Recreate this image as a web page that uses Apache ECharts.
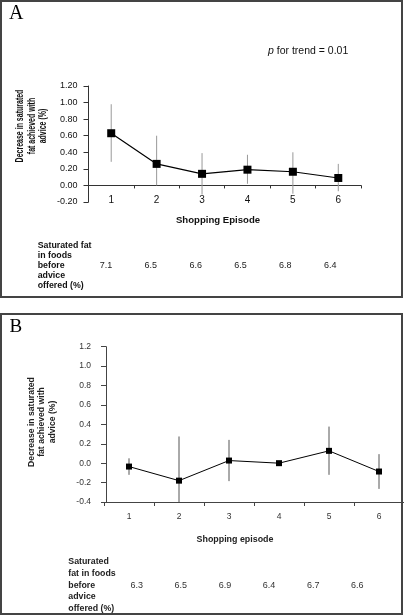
<!DOCTYPE html>
<html>
<head>
<meta charset="utf-8">
<script src="https://cdn.jsdelivr.net/npm/echarts@6/dist/echarts.min.js"></script>
<style>
html,body{margin:0;padding:0;background:#fff;}
#chart{width:404px;height:616px;}
</style>
</head>
<body>
<div id="chart"></div>
<script>
// ---- data ----
const categories = ['1', '2', '3', '4', '5', '6'];

// Panel A
const meanA = [0.63, 0.26, 0.14, 0.19, 0.165, 0.09];
const lowA  = [0.285, 0.0, -0.11, 0.02, -0.10, -0.07];
const highA = [0.98, 0.60, 0.39, 0.37, 0.40, 0.26];
const fatA  = ['7.1', '6.5', '6.6', '6.5', '6.8', '6.4'];

// Panel B
const meanB = [-0.035, -0.18, 0.027, 0.0, 0.127, -0.086];
const lowB  = [-0.12, -0.64, -0.185, 0.0, -0.12, -0.265];
const highB = [0.05, 0.275, 0.24, 0.0, 0.377, 0.093];
const fatB  = ['6.3', '6.5', '6.9', '6.4', '6.7', '6.6'];

const yRangeA = [-0.2, 1.2, 0.2];
const yRangeB = [-0.4, 1.2, 0.2];

const FONT = 'Liberation Sans, Arial, sans-serif';

function errData(low, high) {
  return categories.map((c, i) => [i, low[i], high[i]]);
}
function errRender(color) {
  return function (params, api) {
    const x = api.value(0);
    const lo = api.coord([x, api.value(1)]);
    const hi = api.coord([x, api.value(2)]);
    return {
      type: 'line',
      shape: { x1: lo[0], y1: lo[1], x2: hi[0], y2: hi[1] },
      style: { stroke: color, lineWidth: 1 }
    };
  };
}

const chart = echarts.init(document.getElementById('chart'), null, { renderer: 'canvas' });

const option = {
  animation: false,
  backgroundColor: '#fff',
  grid: [
    { left: 88.5, top: 86, width: 272.5, height: 116 },   // A main
    { left: 104, top: 346.7, width: 302.4, height: 155.3 }, // B main
    { left: 83.6, top: 255, width: 269, height: 1 },      // A table
    { left: 114.6, top: 575, width: 264.8, height: 1 }    // B table
  ],
  xAxis: [
    {
      gridIndex: 0, type: 'category', data: categories, boundaryGap: true,
      axisLine: { onZero: true, lineStyle: { color: '#333', width: 1 } },
      axisTick: { show: true, length: 3, lineStyle: { color: '#333' } },
      axisLabel: { fontSize: 10, color: '#111', margin: -7, fontFamily: FONT }
    },
    {
      gridIndex: 1, type: 'category', data: categories, boundaryGap: true,
      axisLine: { onZero: false, lineStyle: { color: '#444', width: 1 } },
      axisTick: { show: true, length: 4, lineStyle: { color: '#444' } },
      axisLabel: { fontSize: 8.5, color: '#333', margin: 10, fontFamily: FONT }
    },
    {
      gridIndex: 2, type: 'category', data: fatA, boundaryGap: true,
      axisLine: { show: false }, axisTick: { show: false },
      axisLabel: { fontSize: 9, color: '#222', margin: 5, fontFamily: FONT }
    },
    {
      gridIndex: 3, type: 'category', data: fatB, boundaryGap: true,
      axisLine: { show: false }, axisTick: { show: false },
      axisLabel: { fontSize: 9, color: '#333', margin: 5, fontFamily: FONT }
    }
  ],
  yAxis: [
    {
      gridIndex: 0, type: 'value', min: yRangeA[0], max: yRangeA[1], interval: yRangeA[2],
      splitLine: { show: false },
      axisLine: { show: true, lineStyle: { color: '#333' } },
      axisTick: { show: true, length: 5, lineStyle: { color: '#333' } },
      axisLabel: { fontSize: 9, color: '#111', margin: 11, fontFamily: FONT,
        formatter: v => v.toFixed(2) }
    },
    {
      gridIndex: 1, type: 'value', min: yRangeB[0], max: yRangeB[1], interval: yRangeB[2],
      offset: -2,
      splitLine: { show: false },
      axisLine: { show: true, lineStyle: { color: '#444' } },
      axisTick: { show: true, length: 5, lineStyle: { color: '#444' } },
      axisLabel: { fontSize: 8.5, color: '#333', margin: 15, fontFamily: FONT,
        formatter: v => v.toFixed(1) }
    },
    { gridIndex: 2, type: 'value', show: false },
    { gridIndex: 3, type: 'value', show: false }
  ],
  series: [
    {
      type: 'custom', xAxisIndex: 0, yAxisIndex: 0, z: 1,
      data: errData(lowA, highA), encode: { x: 0, y: [1, 2] },
      renderItem: errRender('#999')
    },
    {
      type: 'line', xAxisIndex: 0, yAxisIndex: 0, z: 3,
      data: meanA, symbol: 'rect', symbolSize: 8,
      lineStyle: { color: '#000', width: 1.2 },
      itemStyle: { color: '#000' }
    },
    {
      type: 'custom', xAxisIndex: 1, yAxisIndex: 1, z: 1, clip: true,
      data: errData(lowB, highB), encode: { x: 0, y: [1, 2] },
      renderItem: errRender('#555')
    },
    {
      type: 'line', xAxisIndex: 1, yAxisIndex: 1, z: 3,
      data: meanB, symbol: 'rect', symbolSize: 6,
      lineStyle: { color: '#000', width: 1 },
      itemStyle: { color: '#000' }
    },
    { type: 'line', xAxisIndex: 2, yAxisIndex: 2, data: [], silent: true },
    { type: 'line', xAxisIndex: 3, yAxisIndex: 3, data: [], silent: true }
  ],
  graphic: [
    // frames
    { type: 'rect', z: 100, shape: { x: 1, y: 1, width: 401, height: 296 },
      style: { fill: 'none', stroke: '#444', lineWidth: 2 } },
    { type: 'rect', z: 100, shape: { x: 1, y: 314, width: 401, height: 300 },
      style: { fill: 'none', stroke: '#444', lineWidth: 2 } },
    // panel letters
    { type: 'text', x: 9, y: 14, z: 50,
      style: { text: 'A', fontSize: 20, fontFamily: 'Liberation Serif, Times New Roman, serif',
        fill: '#000', align: 'left', verticalAlign: 'middle' } },
    { type: 'text', x: 9.5, y: 327.5, z: 50,
      style: { text: 'B', fontSize: 19, fontFamily: 'Liberation Serif, Times New Roman, serif',
        fill: '#000', align: 'left', verticalAlign: 'middle' } },
    // p for trend
    { type: 'text', x: 268, y: 51, z: 50,
      style: { text: '{i|p}{n| for trend = 0.01}', align: 'left', verticalAlign: 'middle',
        rich: {
          i: { fontStyle: 'italic', fontSize: 10.5, fontFamily: FONT, fill: '#111' },
          n: { fontSize: 10.5, fontFamily: FONT, fill: '#111' }
        } } },
    // y titles
    { type: 'text', x: 32, y: 126, rotation: Math.PI / 2, scaleX: 0.7, z: 50,
      style: { text: 'Decrease in saturated\nfat achieved with\nadvice (%)',
        fontSize: 10, fontWeight: 'bold', fontFamily: FONT, fill: '#111',
        lineHeight: 11.5, align: 'center', verticalAlign: 'middle' } },
    { type: 'text', x: 42, y: 422, rotation: Math.PI / 2, scaleX: 0.96, z: 50,
      style: { text: 'Decrease in saturated\nfat achieved with\nadvice (%)',
        fontSize: 9, fontWeight: 'bold', fontFamily: FONT, fill: '#222',
        lineHeight: 10.5, align: 'center', verticalAlign: 'middle' } },
    // x titles
    { type: 'text', x: 218, y: 220, z: 50,
      style: { text: 'Shopping Episode', fontSize: 9.6, fontWeight: 'bold', fontFamily: FONT,
        fill: '#111', align: 'center', verticalAlign: 'middle' } },
    { type: 'text', x: 235, y: 540, z: 50,
      style: { text: 'Shopping episode', fontSize: 8.9, fontWeight: 'bold', fontFamily: FONT,
        fill: '#222', align: 'center', verticalAlign: 'middle' } },
    // table row labels
    { type: 'text', x: 37.7, y: 240.7, z: 50,
      style: { text: 'Saturated fat\nin foods\nbefore\nadvice\noffered (%)',
        fontSize: 8.8, fontWeight: 'bold', fontFamily: FONT, fill: '#111',
        lineHeight: 10, align: 'left', verticalAlign: 'top' } },
    { type: 'text', x: 68.3, y: 556, z: 50,
      style: { text: 'Saturated\nfat in foods\nbefore\nadvice\noffered (%)',
        fontSize: 8.8, fontWeight: 'bold', fontFamily: FONT, fill: '#222',
        lineHeight: 11.65, align: 'left', verticalAlign: 'top' } }
  ]
};

chart.setOption(option);
</script>
</body>
</html>
